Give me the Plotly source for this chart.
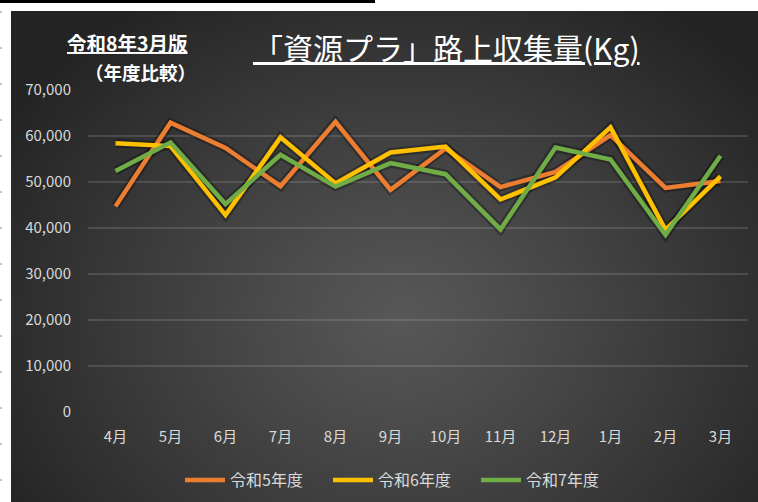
import base64, struct, zlib
import numpy as np
import plotly.graph_objects as go

# ---- data ----
months = ["4月", "5月", "6月", "7月", "8月", "9月", "10月", "11月", "12月", "1月", "2月", "3月"]
r5 = [44700, 62900, 57400, 49100, 63100, 48300, 57300, 48900, 52200, 60200, 48700, 50200]
r6 = [58400, 57800, 42800, 59700, 49700, 56400, 57700, 46200, 51000, 61900, 39600, 51200]
r7 = [52400, 58600, 45200, 55900, 49000, 54100, 51700, 39700, 57500, 54900, 38500, 55700]
series_names = ["令和5年度", "令和6年度", "令和7年度"]
colors = ["#ED7D31", "#FFC000", "#70AD47"]
y_ticks = [0, 10000, 20000, 30000, 40000, 50000, 60000, 70000]

W, H = 758, 502
L, R, T, B = 88, 748, 90, 412  # plot area in pixels


def px(x):
    return (x - L) / (R - L)


def py(y):
    return (B - y) / (B - T)


def png_uri(w, h):
    yy, xx = np.mgrid[0:h, 0:w]
    cx, cy = 0.52 * w, 0.62 * h
    t = np.sqrt(((xx - cx) / (0.62 * w)) ** 2 + ((yy - cy) / (0.78 * h)) ** 2)
    t = np.clip(t, 0, 1)
    c = (88 - (88 - 36) * t ** 1.1).astype(np.uint8)
    rgb = np.stack([c, c, c], axis=-1)
    raw = b"".join(b"\x00" + rgb[i].tobytes() for i in range(h))

    def chunk(tag, data):
        return struct.pack(">I", len(data)) + tag + data + struct.pack(">I", zlib.crc32(tag + data) & 0xFFFFFFFF)

    png = b"\x89PNG\r\n\x1a\n" + chunk(b"IHDR", struct.pack(">IIBBBBB", w, h, 8, 2, 0, 0, 0))
    png += chunk(b"IDAT", zlib.compress(raw, 9)) + chunk(b"IEND", b"")
    return "data:image/png;base64," + base64.b64encode(png).decode()


FONT = "Noto Sans CJK JP"
fig = go.Figure()
for name, vals, col in zip(series_names, [r5, r6, r7], colors):
    fig.add_trace(go.Scatter(x=months, y=vals, mode="lines", showlegend=False, hoverinfo="skip",
                             line=dict(color="rgba(0,0,0,0.28)", width=9)))
for name, vals, col in zip(series_names, [r5, r6, r7], colors):
    fig.add_trace(go.Scatter(x=months, y=vals, mode="lines", name=name,
                             line=dict(color=col, width=4.5)))

panel_x0, panel_x1, panel_y0, panel_y1 = 11, 758, 11, 502
fig.add_layout_image(dict(source=png_uri(200, 130), xref="paper", yref="paper",
                          x=px(panel_x0), y=py(panel_y0), sizex=px(panel_x1) - px(panel_x0),
                          sizey=py(panel_y0) - py(panel_y1), sizing="stretch",
                          xanchor="left", yanchor="top", layer="below"))

shapes = [dict(type="rect", xref="paper", yref="paper", x0=px(0), x1=px(375), y0=py(0), y1=py(3),
               fillcolor="black", line=dict(width=0))]
for yy in range(12, 502, 36):
    shapes.append(dict(type="line", xref="paper", yref="paper", x0=px(0), x1=px(2), y0=py(yy), y1=py(yy),
                       line=dict(color="#888", width=1)))

annotations = [
    dict(text="令和8年3月版", x=px(127), y=py(43), xref="paper", yref="paper", showarrow=False,
         xanchor="center", yanchor="middle", borderpad=0,
         font=dict(family=FONT, size=19.5, color="white", weight="bold", lineposition="under")),
    dict(text="（年度比較）", x=px(140), y=py(72), xref="paper", yref="paper", showarrow=False,
         xanchor="center", yanchor="middle", borderpad=0,
         font=dict(family=FONT, size=18.5, color="white", weight="bold")),
    dict(text="「資源プラ」路上収集量(Kg)", x=px(446), y=py(47), xref="paper", yref="paper", showarrow=False,
         xanchor="center", yanchor="middle",
         font=dict(family=FONT, size=30, color="white", lineposition="under")),
]

fig.update_layout(
    width=W, height=H,
    margin=dict(l=L, r=W - R, t=T, b=H - B, autoexpand=False),
    paper_bgcolor="white", plot_bgcolor="rgba(0,0,0,0)",
    font=dict(family=FONT, color="#D9D9D9", size=15),
    shapes=shapes, annotations=annotations,
    xaxis=dict(type="category", range=[-0.5, 11.5], showgrid=False, showline=False, zeroline=False,
               ticks="", ticklabelstandoff=14, tickfont=dict(size=15, color="#D9D9D9")),
    yaxis=dict(range=[0, 70000], tickvals=y_ticks, tickformat=",", showgrid=True,
               gridcolor="rgba(255,255,255,0.13)", gridwidth=1.5, zeroline=False, showline=False,
               ticks="", ticklabelstandoff=16, tickfont=dict(size=15, color="#D9D9D9")),
    legend=dict(orientation="h", x=px(402), y=py(480), xanchor="center", yanchor="middle",
                font=dict(size=16, color="#D9D9D9"), bgcolor="rgba(0,0,0,0)", itemwidth=40,
                entrywidth=93, entrywidthmode="pixels"),
)

fig.write_html("out.html", config={"displayModeBar": False},
               post_script="document.body.style.margin='0';document.body.style.overflow='hidden';")
